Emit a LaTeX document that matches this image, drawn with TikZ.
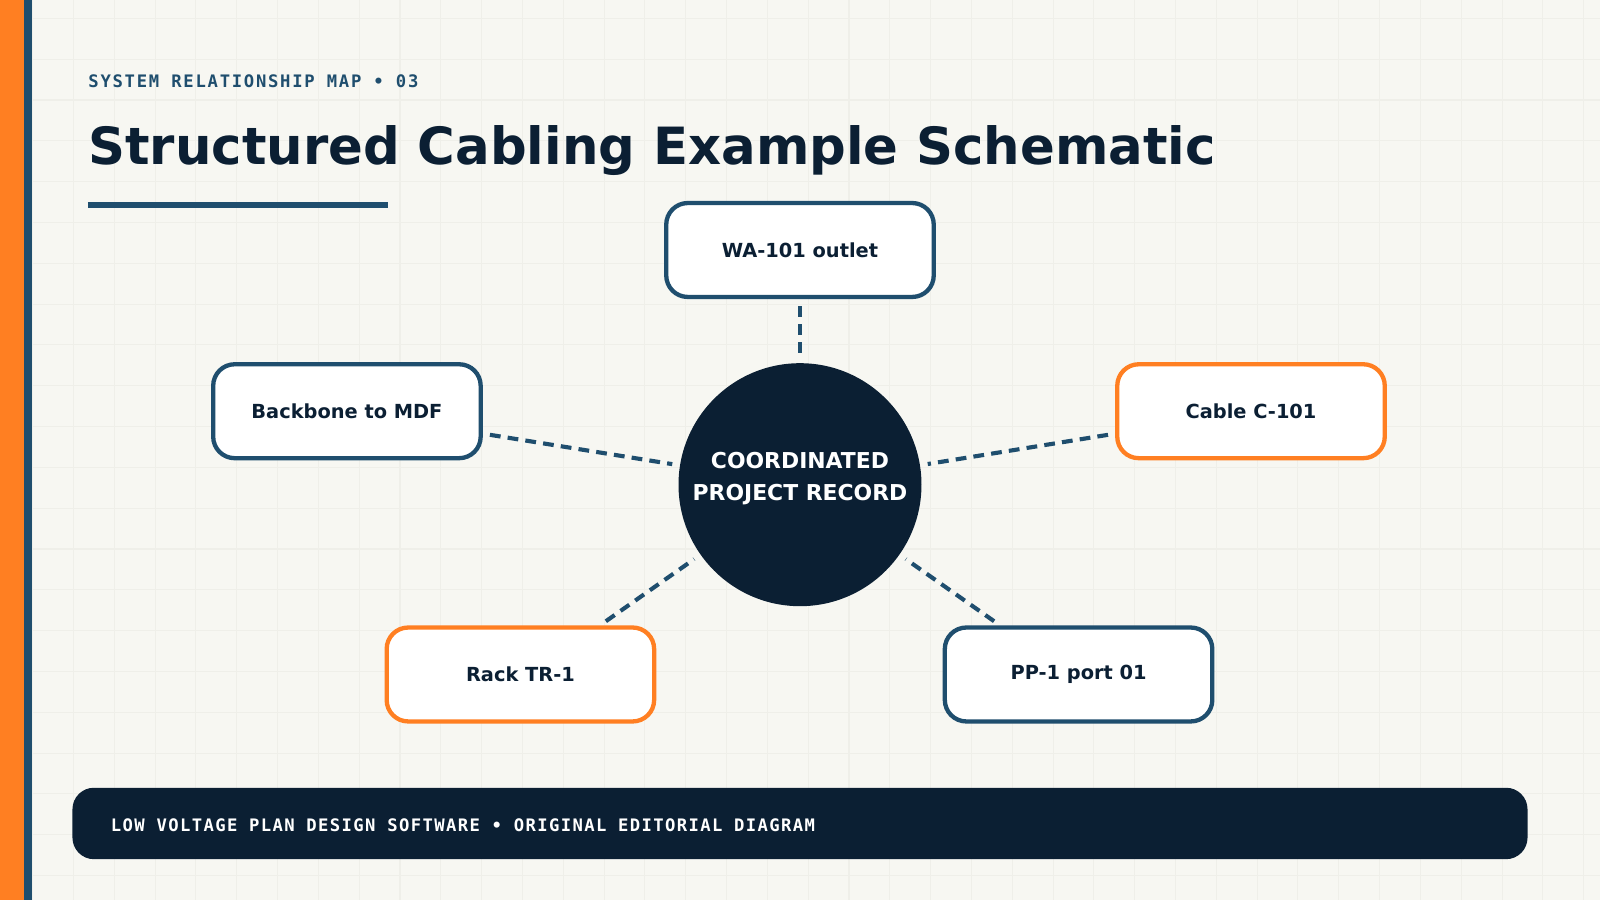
\documentclass[tikz,border=0pt]{standalone}
\usepackage{fontspec}
\setmainfont{DejaVu Sans}
\newfontfamily\monofont[LetterSpace=10]{DejaVu Sans Mono}
\newfontfamily\footfont[LetterSpace=8]{DejaVu Sans Mono}
\usetikzlibrary{
    arrows.meta,
    positioning
}
\definecolor{paper}{HTML}{F7F7F2}
\definecolor{gridline}{HTML}{EFEFE9}
\definecolor{navy}{HTML}{0B1F33}
\definecolor{steel}{HTML}{1F4E6E}
\definecolor{accent}{HTML}{FF7F22}

\begin{document}
\begin{tikzpicture}[
    x=0.01cm, y=-0.01cm,
    bluebox/.style   = {rectangle, rounded corners=6pt, draw=steel, fill=white,
                        line width=1.2pt, minimum width=2.62cm, minimum height=0.92cm,
                        font=\fontsize{5.4}{6.5}\selectfont\bfseries, text=navy},
    orangebox/.style = {bluebox, draw=accent},
    hub/.style       = {circle, fill=navy, minimum size=2.38cm, inner sep=0pt},
    hubtext/.style   = {align=center, text=white,
                        font=\fontsize{6.1}{8.8}\selectfont\bfseries},
    link/.style      = {draw=steel, line width=1.15pt, dash pattern=on 3pt off 2pt,
                        shorten <=2pt, shorten >=2pt},
]
    \useasboundingbox (0,0) rectangle (1568,882);
    %Background
    \fill[paper] (0,0) rectangle (1568,882);
    \foreach \gx in {32,72,...,1568} \draw[gridline, line width=0.3pt] (\gx,0) -- (\gx,882);
    \foreach \gy in {18,58,...,882} \draw[gridline, line width=0.3pt] (0,\gy) -- (1568,\gy);
    \fill[accent] (0,0) rectangle (24,882);
    \fill[steel] (24,0) rectangle (31,882);

    %Heading
    \node[anchor=base west, inner sep=0pt, text=steel,
          font=\fontsize{4.8}{6}\monofont\bfseries] (kicker) at (86,86)
          {SYSTEM RELATIONSHIP MAP • 03};
    \node[anchor=base west, inner sep=0pt, text=navy,
          font=\fontsize{14.3}{18}\selectfont\bfseries] (title) at (86,161)
          {Structured Cabling Example Schematic};
    \draw[steel, line width=1.7pt] (86,201) -- (380,201);

    %Nodes
    \node[hub]       (record)   at (784,475) {};
    \node[hubtext]   (recordtext) at (784,469) {COORDINATED\\PROJECT RECORD};
    \node[bluebox]   (outlet)   at (784,245) {WA-101 outlet};
    \node[bluebox]   (backbone) at (340,403) {Backbone to MDF};
    \node[orangebox] (cable)    at (1226,403) {Cable C-101};
    \node[orangebox] (rack)     at (510,661) {Rack TR-1};
    \node[bluebox]   (patch)    at (1057,661) {PP-1 port 01};

    %Lines
    \draw[link] (outlet.south) -- (record);
    \draw[link] (backbone.east |- 0,425) -- (record);
    \draw[link] (cable.west |- 0,425) -- (record);
    \draw[link] (rack.north -| 588,0) -- (record);
    \draw[link] (patch.north -| 980,0) -- (record);

    %Footer
    \fill[navy, rounded corners=6pt] (71,772) rectangle (1497,842);
    \node[anchor=base west, inner sep=0pt, text=white,
          font=\fontsize{4.8}{6}\footfont\bfseries] (footer) at (108,815)
          {LOW VOLTAGE PLAN DESIGN SOFTWARE • ORIGINAL EDITORIAL DIAGRAM};
\end{tikzpicture}
\end{document}
